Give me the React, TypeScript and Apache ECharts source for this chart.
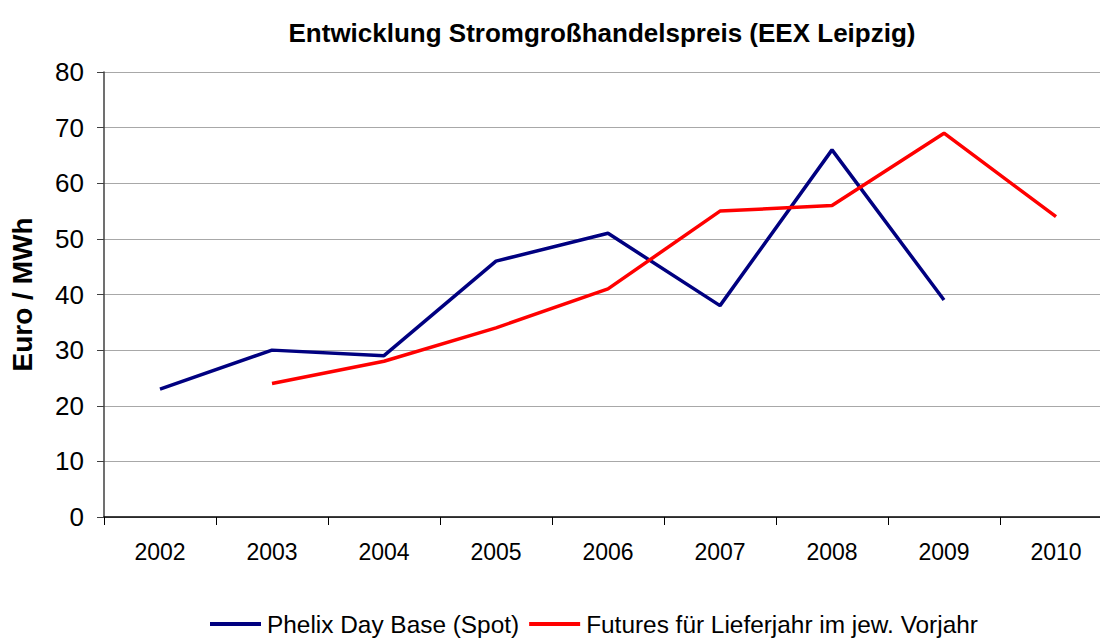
import React, { useEffect, useRef } from "react";
import * as echarts from "echarts";

const years = ["2002", "2003", "2004", "2005", "2006", "2007", "2008", "2009", "2010"];
const spotValues = [23, 30, 29, 46, 51, 38, 66, 39, null];
const futuresValues = [null, 24, 28, 34, 41, 55, 56, 69, 54];
const seriesNames = ["Phelix Day Base (Spot)", "Futures für Lieferjahr im jew. Vorjahr"];
const titleText = "Entwicklung Stromgroßhandelspreis (EEX Leipzig)";
const yAxisName = "Euro / MWh";

export default function App() {
  const ref = useRef<HTMLDivElement>(null);
  useEffect(() => {
    if (!ref.current) return;
    const chart = echarts.init(ref.current, null, { renderer: "svg" });
    const font = "Liberation Sans, Arial, sans-serif";
    chart.setOption({
      animation: false,
      backgroundColor: "#ffffff",
      title: {
        text: titleText,
        left: 597,
        textAlign: "center",
        top: 15,
        textStyle: { fontFamily: font, fontSize: 26, fontWeight: "bold", color: "#000" },
      },
      legend: {
        bottom: 0,
        left: 205,
        itemWidth: 51,
        itemHeight: 4,
        itemGap: 10,
        icon: "rect",
        textStyle: { fontFamily: font, fontSize: 24.4, color: "#000", padding: [0, 0, 0, 1] },
        data: seriesNames,
      },
      grid: { left: 104, top: 72, right: 0, bottom: 124, containLabel: false, outerBoundsMode: "none" },
      xAxis: {
        type: "category",
        data: years,
        boundaryGap: true,
        axisLine: { lineStyle: { color: "#000", width: 1.5 } },
        axisTick: { show: true, length: 8, lineStyle: { color: "#000" } },
        axisLabel: { fontFamily: font, fontSize: 23, color: "#000", margin: 23 },
      },
      yAxis: {
        type: "value",
        min: 0,
        max: 80,
        interval: 10,
        name: yAxisName,
        nameLocation: "middle",
        nameGap: 68,
        nameRotate: 90,
        nameTextStyle: { fontFamily: font, fontSize: 28, fontWeight: "bold", color: "#000" },
        axisLine: { show: true, lineStyle: { color: "#404040", width: 1.5 } },
        axisTick: { show: true, length: 7, lineStyle: { color: "#404040" } },
        axisLabel: { fontFamily: font, fontSize: 26, color: "#000", margin: 20 },
        splitLine: { show: true, lineStyle: { color: "#a8a8a8", width: 1.2 } },
      },
      series: [
        {
          name: seriesNames[0],
          type: "line",
          data: spotValues,
          symbol: "none",
          connectNulls: false,
          lineStyle: { color: "#000080", width: 3.5 },
          itemStyle: { color: "#000080" },
        },
        {
          name: seriesNames[1],
          type: "line",
          data: futuresValues,
          symbol: "none",
          connectNulls: false,
          lineStyle: { color: "#ff0000", width: 3.5 },
          itemStyle: { color: "#ff0000" },
        },
      ],
    });
    return () => chart.dispose();
  }, []);
  return (
    <div
      style={{ position: "fixed", left: 0, top: 0, width: 1100, height: 641, overflow: "hidden", background: "#fff" }}
    >
      <div ref={ref} style={{ width: 1112, height: 641 }} />
    </div>
  );
}
